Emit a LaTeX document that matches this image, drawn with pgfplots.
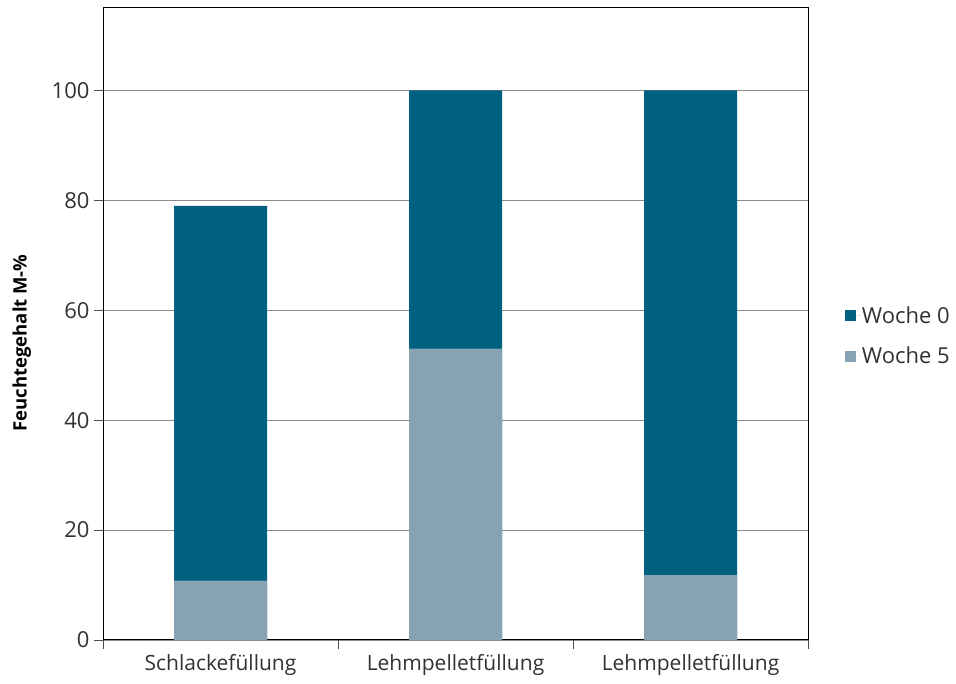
\documentclass[border=0pt]{standalone}
\usepackage{pgfplots}
\pgfplotsset{compat=1.18}
\usepackage{fontspec}
\setmainfont{Open Sans}
\definecolor{wocheO}{RGB}{0,96,128}
\definecolor{wocheF}{RGB}{135,162,179}
\definecolor{txt}{RGB}{50,50,50}
\begin{document}
\begin{tikzpicture}
\path[use as bounding box] (0pt,0pt) rectangle (956pt,684pt);
\begin{axis}[
  at={(103pt,44pt)}, anchor=south west,
  scale only axis, width=705pt, height=632pt,
  xmin=0.5, xmax=3.5, ymin=0, ymax=115,
  ybar, bar width=93pt, bar shift=0pt,
  xtick={1,2,3},
  xticklabels={Schlackefüllung,Lehmpelletfüllung,Lehmpelletfüllung},
  major x tick style={draw=none},
  extra x ticks={0.5,1.5,2.5,3.5}, extra x tick labels={},
  extra x tick style={major tick length=9pt, tick align=outside, grid=none,
    major x tick style={draw=black!70, line width=0.6pt}},
  ytick={0,20,...,100},
  ymajorgrids, grid style={draw=black!45, line width=0.6pt},
  major y tick style={draw=black!70, line width=0.6pt},
  major tick length=9pt, tick align=outside,
  tick pos=left,
  axis line style={line width=1pt, draw=black},
  /pgf/number format/assume math mode=true,
  xticklabel style={font=\fontsize{21}{25}\selectfont, text=txt, yshift=-2pt},
  yticklabel style={font=\fontsize{22}{26}\selectfont, text=txt, xshift=-1pt},
  ylabel={\bfseries Feuchtegehalt M-\%},
  ylabel style={at={(axis description cs:-0.115,0.47)}, anchor=center,
    font=\fontsize{18.5}{22}\selectfont, text=black},
  legend style={at={(axis description cs:1.052,0.481)}, anchor=west, draw=none,
    font=\fontsize{22}{26}\selectfont, text=txt, row sep=18pt,
    legend cell align=left, inner sep=0pt},
  legend image code/.code={\fill[#1] (0pt,-5.5pt) rectangle (11pt,5.5pt);
    \path (0pt,0pt) -- (15pt,0pt);},
]
\addplot[fill=wocheO, draw=none] coordinates {(1,79) (2,100) (3,100)};
\addlegendentry{Woche 0}
\addplot[fill=wocheF, draw=none] coordinates {(1,10.8) (2,53) (3,11.8)};
\addlegendentry{Woche 5}
\end{axis}
\end{tikzpicture}
\end{document}
